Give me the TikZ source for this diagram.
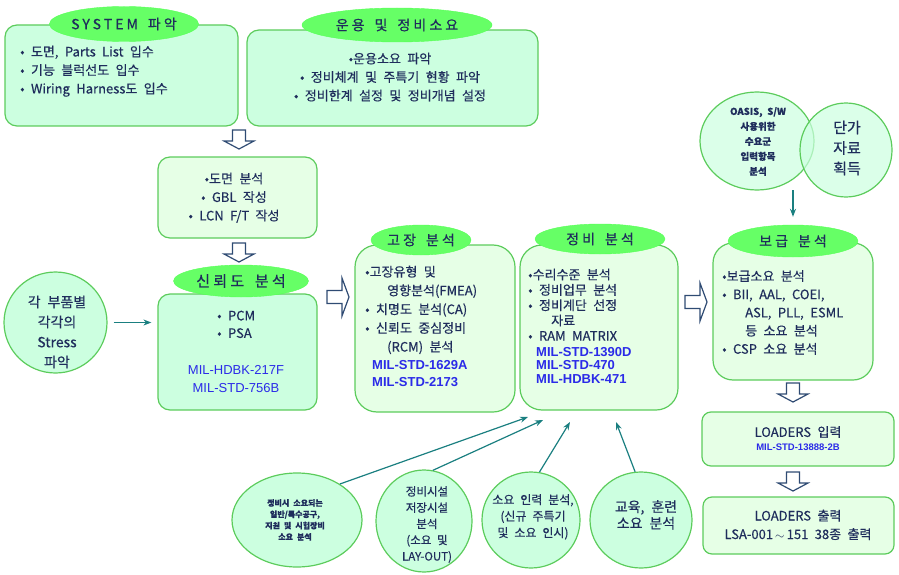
\documentclass[tikz,border=0pt]{standalone}
\usepackage{fontspec}
\setmainfont[WordSpace=2.2,FakeBold=0.4]{Noto Sans CJK KR}
\newfontfamily\titlefont[LetterSpace=22,WordSpace=1.6,FakeBold=0.5]{Noto Sans CJK KR}
\newfontfamily\milfont{Liberation Sans}
\usetikzlibrary{arrows.meta,shapes.geometric}

\definecolor{mint}{HTML}{CCFFE0}
\definecolor{pale}{HTML}{E6FFE6}
\definecolor{edge}{HTML}{5CCC5C}
\definecolor{lime}{HTML}{66FF66}
\definecolor{ink}{HTML}{1F2D5C}
\definecolor{milblue}{HTML}{2B2BE8}
\definecolor{tealline}{HTML}{1A7F80}
\definecolor{arrowline}{HTML}{2F4B73}

\tikzset{
  box/.style={draw=edge,line width=1.2pt,rounded corners=12pt,inner sep=0pt},
  title/.style={ellipse,fill=lime,draw=lime!85!green,inner sep=0pt,
    font=\titlefont\fontsize{14}{16}\selectfont,text=ink},
  txt/.style={inner sep=0pt,text=ink,font=\fontsize{13}{18.5}\selectfont},
  mil/.style={inner sep=0pt,text=milblue,font=\milfont\fontsize{13}{18}\selectfont},
  blob/.style={ellipse,draw=edge,fill=mint,line width=1.2pt,inner sep=0pt},
  conn/.style={draw=tealline,line width=1.2pt,-{Stealth[length=8pt,width=6pt]}},
  hollow/.style={draw=arrowline,fill=white,line width=1.2pt,line join=miter},
  pics/hdown/.style={code={
    \draw[hollow] (-6.5,0) -- (6.5,0) -- (6.5,11) -- (15,11) -- (0,19)
      -- (-15,11) -- (-6.5,11) -- cycle;}},
  pics/hright/.style={code={
    \draw[hollow] (0,-6.5) -- (15,-6.5) -- (15,-19) -- (22,0) -- (15,19)
      -- (15,6.5) -- (0,6.5) -- cycle;}},
}

\begin{document}
\begin{tikzpicture}[x=1pt,y=-1pt]
 \useasboundingbox (0,0) rectangle (899,575);
 % top row
 \node[box,fill=mint,minimum width=233,minimum height=101] (sys) at (121.5,75.5) {};
 \node[title,minimum width=149,minimum height=35] (syst) at (124,24) {SYSTEM 파악};
 \node[txt,anchor=north west,align=left] (systxt) at (20,45.5)
   {• 도면, Parts List 입수\\• 기능 블럭선도 입수\\• Wiring Harness도 입수};
 \node[box,fill=mint,minimum width=291,minimum height=96] (ops) at (392.5,78) {};
 \node[title,minimum width=190,minimum height=34] (opst) at (397,25) {운용 및 정비소요};
 \node[txt,anchor=north,align=center] (opstxt) at (390,52.5)
   {•운용소요 파악\\• 정비체계 및 주특기 현황 파악\\• 정비한계 설정 및 정비개념 설정};
 \pic at (239,130) {hdown};
 % drawing analysis
 \node[box,fill=pale,minimum width=159,minimum height=81] (dwg) at (237.5,197.5) {};
 \node[txt,anchor=north,align=center] (dwgtxt) at (234,172.5)
   {•도면 분석\\• GBL 작성\\• LCN F/T 작성};
 \pic at (239,243) {hdown};
 % reliability
 \node[box,fill=mint,minimum width=159,minimum height=116] (rel) at (237.5,352) {};
 \node[title,minimum width=135,minimum height=32,font=\titlefont\fontsize{15}{17}\selectfont] (relt) at (241,281) {신뢰도 분석};
 \node[txt,anchor=north west,align=left,font=\fontsize{13}{17.5}\selectfont] (reltxt) at (217,310.5)
   {• PCM\\• PSA};
 \node[mil,anchor=north,align=center] (relmil) at (236,365) {MIL-HDBK-217F\\MIL-STD-756B};
 \node[blob,minimum width=103,minimum height=101] (stress) at (55.5,322.5) {};
 \node[txt,anchor=north,align=center,font=\fontsize{14}{20}\selectfont] (stresstxt) at (57,295.5)
   {각 부품별\\각각의\\Stress\\파악};
 \draw[conn,shorten <=6pt,shorten >=6pt] (stress) -- (stress -| rel.west);
 \pic at (327,297) {hright};
 % failure analysis
 \node[box,fill=pale,rounded corners=22pt,minimum width=160,minimum height=167] (fail) at (435,328.5) {};
 \node[title,minimum width=100,minimum height=30] (failt) at (421,240) {고장 분석};
 \node[txt,anchor=north west,align=left,font=\fontsize{13}{18.75}\selectfont] (failtxt) at (365,265.5)
   {•고장유형 및\\\hspace*{22pt}영향분석(FMEA)\\• 치명도 분석(CA)\\• 신뢰도 중심정비\\\hspace*{22pt}(RCM) 분석};
 \node[mil,anchor=north west,align=left,font=\milfont\bfseries\fontsize{13}{17.5}\selectfont] (failmil) at (372,360)
   {MIL-STD-1629A\\MIL-STD-2173};
 % maintenance analysis
 \node[box,fill=pale,rounded corners=22pt,minimum width=158,minimum height=165] (mnt) at (599,327.5) {};
 \node[title,minimum width=130,minimum height=30] (mntt) at (600,239) {정비 분석};
 \node[txt,anchor=north west,align=left,font=\fontsize{13}{15.3}\selectfont] (mnttxt) at (528,268.5)
   {•수리수준 분석\\• 정비업무 분석\\• 정비계단 선정\\\hspace*{23pt}자료\\• RAM MATRIX};
 \node[mil,anchor=north west,align=left,font=\milfont\bfseries\fontsize{13}{13.5}\selectfont] (mntmil) at (536,347)
   {MIL-STD-1390D\\MIL-STD-470\\MIL-HDBK-471};
 \pic at (685,302) {hright};
 % supply analysis
 \node[box,fill=pale,rounded corners=20pt,minimum width=160,minimum height=137] (sup) at (793,311.5) {};
 \node[title,minimum width=130,minimum height=32] (supt) at (793,241) {보급 분석};
 \node[txt,anchor=north west,align=left,font=\fontsize{13}{18.2}\selectfont] (suptxt) at (722,270)
   {•보급소요 분석\\• BII, AAL, COEI,\\\hspace*{23pt}ASL, PLL, ESML\\\hspace*{23pt}등 소요 분석\\• CSP 소요 분석};
 % unit price
 \node[blob,fill opacity=0.7,minimum width=114,minimum height=98] (venna) at (757,141) {};
 \node[blob,fill opacity=0.7,minimum width=92,minimum height=94] (vennb) at (846,150) {};
 \node[txt,anchor=north,align=center,font=\bfseries\fontsize{9.5}{15}\selectfont] (vennatxt) at (758,107)
   {OASIS, S/W\\사용위한\\수요군\\입력항목\\분석};
 \node[txt,anchor=north,align=center,font=\fontsize{15}{20.5}\selectfont] (vennbtxt) at (847,120.5)
   {단가\\자료\\획득};
 \coordinate (vtop) at (793,190);
 \draw[conn,shorten >=8pt] (vtop) -- (supt.north);
 % LOADERS
 \pic at (793,383) {hdown};
 \node[box,fill=pale,rounded corners=9pt,minimum width=192,minimum height=54] (ldin) at (798,439) {};
 \node[txt] (ldintxt) at (798,432) {LOADERS 입력};
 \node[mil,font=\milfont\bfseries\fontsize{9.5}{11}\selectfont] (ldinmil) at (798,447) {MIL-STD-13888-2B};
 \pic at (793,472) {hdown};
 \node[box,fill=pale,rounded corners=9pt,minimum width=191,minimum height=57] (ldout) at (798.5,525.5) {};
 \node[txt,anchor=north,align=center] (ldouttxt) at (798,509.5)
   {LOADERS 출력\\LSA-001\,$\sim$\,151 38종 출력};
 % requirement circles
 \node[blob,minimum width=130,minimum height=94] (ea) at (297,520) {};
 \node[txt,anchor=north,align=center,font=\bfseries\fontsize{8}{11.3}\selectfont] (eatxt) at (295,499)
   {정비시 소요되는\\일반/특수공구,\\지원 및 시험장비\\소요 분석};
 \node[blob,minimum width=96,minimum height=102] (eb) at (424,521) {};
 \node[txt,anchor=north,align=center,font=\fontsize{11.5}{16.2}\selectfont] (ebtxt) at (427,486)
   {정비시설\\저장시설\\분석\\(소요 및\\LAY-OUT)};
 \node[blob,minimum width=98,minimum height=96] (ec) at (531,520) {};
 \node[txt,anchor=north,align=center,font=\fontsize{12}{16.5}\selectfont] (ectxt) at (533,494)
   {소요 인력 분석,\\(신규 주특기\\및 소요 인시)};
 \node[blob,minimum width=102,minimum height=96] (ed) at (641,520) {};
 \node[txt,anchor=north,align=center,font=\fontsize{14}{16.5}\selectfont] (edtxt) at (646,500)
   {교육, 훈련\\소요 분석};
 \coordinate (ma) at (528,417);
 \coordinate (mb) at (543,420);
 \coordinate (mc) at (570,422);
 \coordinate (md) at (616,422);
 \draw[conn] (ea.40) -- (ma);
 \draw[conn] (eb.80) -- (mb);
 \draw[conn] (ec.80) -- (mc);
 \draw[conn] (ed.97) -- (md);
\end{tikzpicture}
\end{document}
